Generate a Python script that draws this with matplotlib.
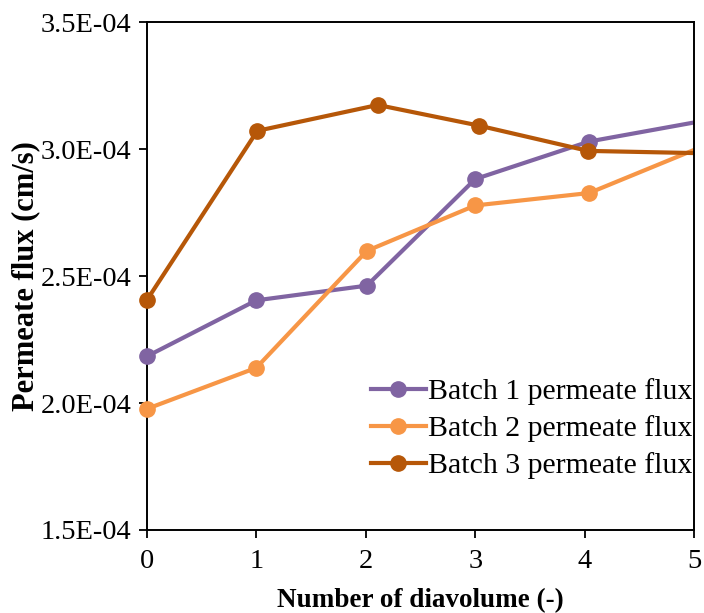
import matplotlib
matplotlib.use("Agg")
import matplotlib.pyplot as plt
from matplotlib.lines import Line2D
from matplotlib.ticker import FuncFormatter

# Permeate flux (cm/s) against number of diavolumes for three batches
batch1_x = [0, 1.0, 2.01, 3.0, 4.04, 5.05]
batch1_flux = [2.184e-4, 2.405e-4, 2.463e-4, 2.883e-4, 3.031e-4, 3.110e-4]

batch2_x = [0, 1.0, 2.01, 3.0, 4.04, 5.05]
batch2_flux = [1.977e-4, 2.139e-4, 2.600e-4, 2.779e-4, 2.828e-4, 3.007e-4]

batch3_x = [0, 1.01, 2.11, 3.03, 4.03, 5.05]
batch3_flux = [2.405e-4, 3.073e-4, 3.175e-4, 3.094e-4, 2.994e-4, 2.985e-4]

labels = ["Batch 1 permeate flux", "Batch 2 permeate flux", "Batch 3 permeate flux"]
colors = ["#8064A2", "#F79646", "#B65708"]

plt.rcParams["font.family"] = "Liberation Serif"

fig = plt.figure(figsize=(7.04, 6.13), dpi=100)
ax = fig.add_axes([0.2084, 0.1354, 0.7778, 0.8279])

xmin, xmax = 0, 5
series = [(batch1_x, batch1_flux), (batch2_x, batch2_flux), (batch3_x, batch3_flux)]
handles = []
for (x, y), lab, c in zip(series, labels, colors):
    # line is clipped to the plot area, markers only for points inside the x range
    ax.plot(x, y, color=c, lw=3, zorder=2)
    inside = [(xi, yi) for xi, yi in zip(x, y) if xmin <= xi <= xmax]
    ax.plot([p[0] for p in inside], [p[1] for p in inside], ls="none",
            marker="o", ms=11, color=c, clip_on=False, zorder=3)
    handles.append(Line2D([], [], color=c, lw=3, marker="o", ms=11, label=lab))

ax.set_xlim(xmin, xmax)
ax.set_ylim(1.5e-4, 3.5e-4)
ax.set_xticks(range(6))
ax.set_yticks([1.5e-4, 2.0e-4, 2.5e-4, 3.0e-4, 3.5e-4])
ax.yaxis.set_major_formatter(FuncFormatter(lambda v, p: f"{v * 1e4:.1f}E-04"))

ax.tick_params(axis="both", direction="out", length=6, width=1.3,
               labelsize=20.5, colors="black")
ax.tick_params(axis="x", pad=8)
ax.tick_params(axis="y", pad=5)

for side in ["left", "bottom", "right", "top"]:
    ax.spines[side].set_color("black")
    ax.spines[side].set_linewidth(1.4)

ax.set_xlabel("Number of diavolume (-)", fontsize=19.5, fontweight="bold", labelpad=10)
ax.set_ylabel("Permeate flux (cm/s)", fontsize=22, fontweight="bold", labelpad=0)

ax.legend(handles=handles, loc="upper left", bbox_to_anchor=(0.387, 0.322),
          frameon=False, fontsize=21.5, handlelength=1.85, handletextpad=0.08,
          labelspacing=0.33, borderaxespad=0)

fig.savefig("out.png", dpi=100)
